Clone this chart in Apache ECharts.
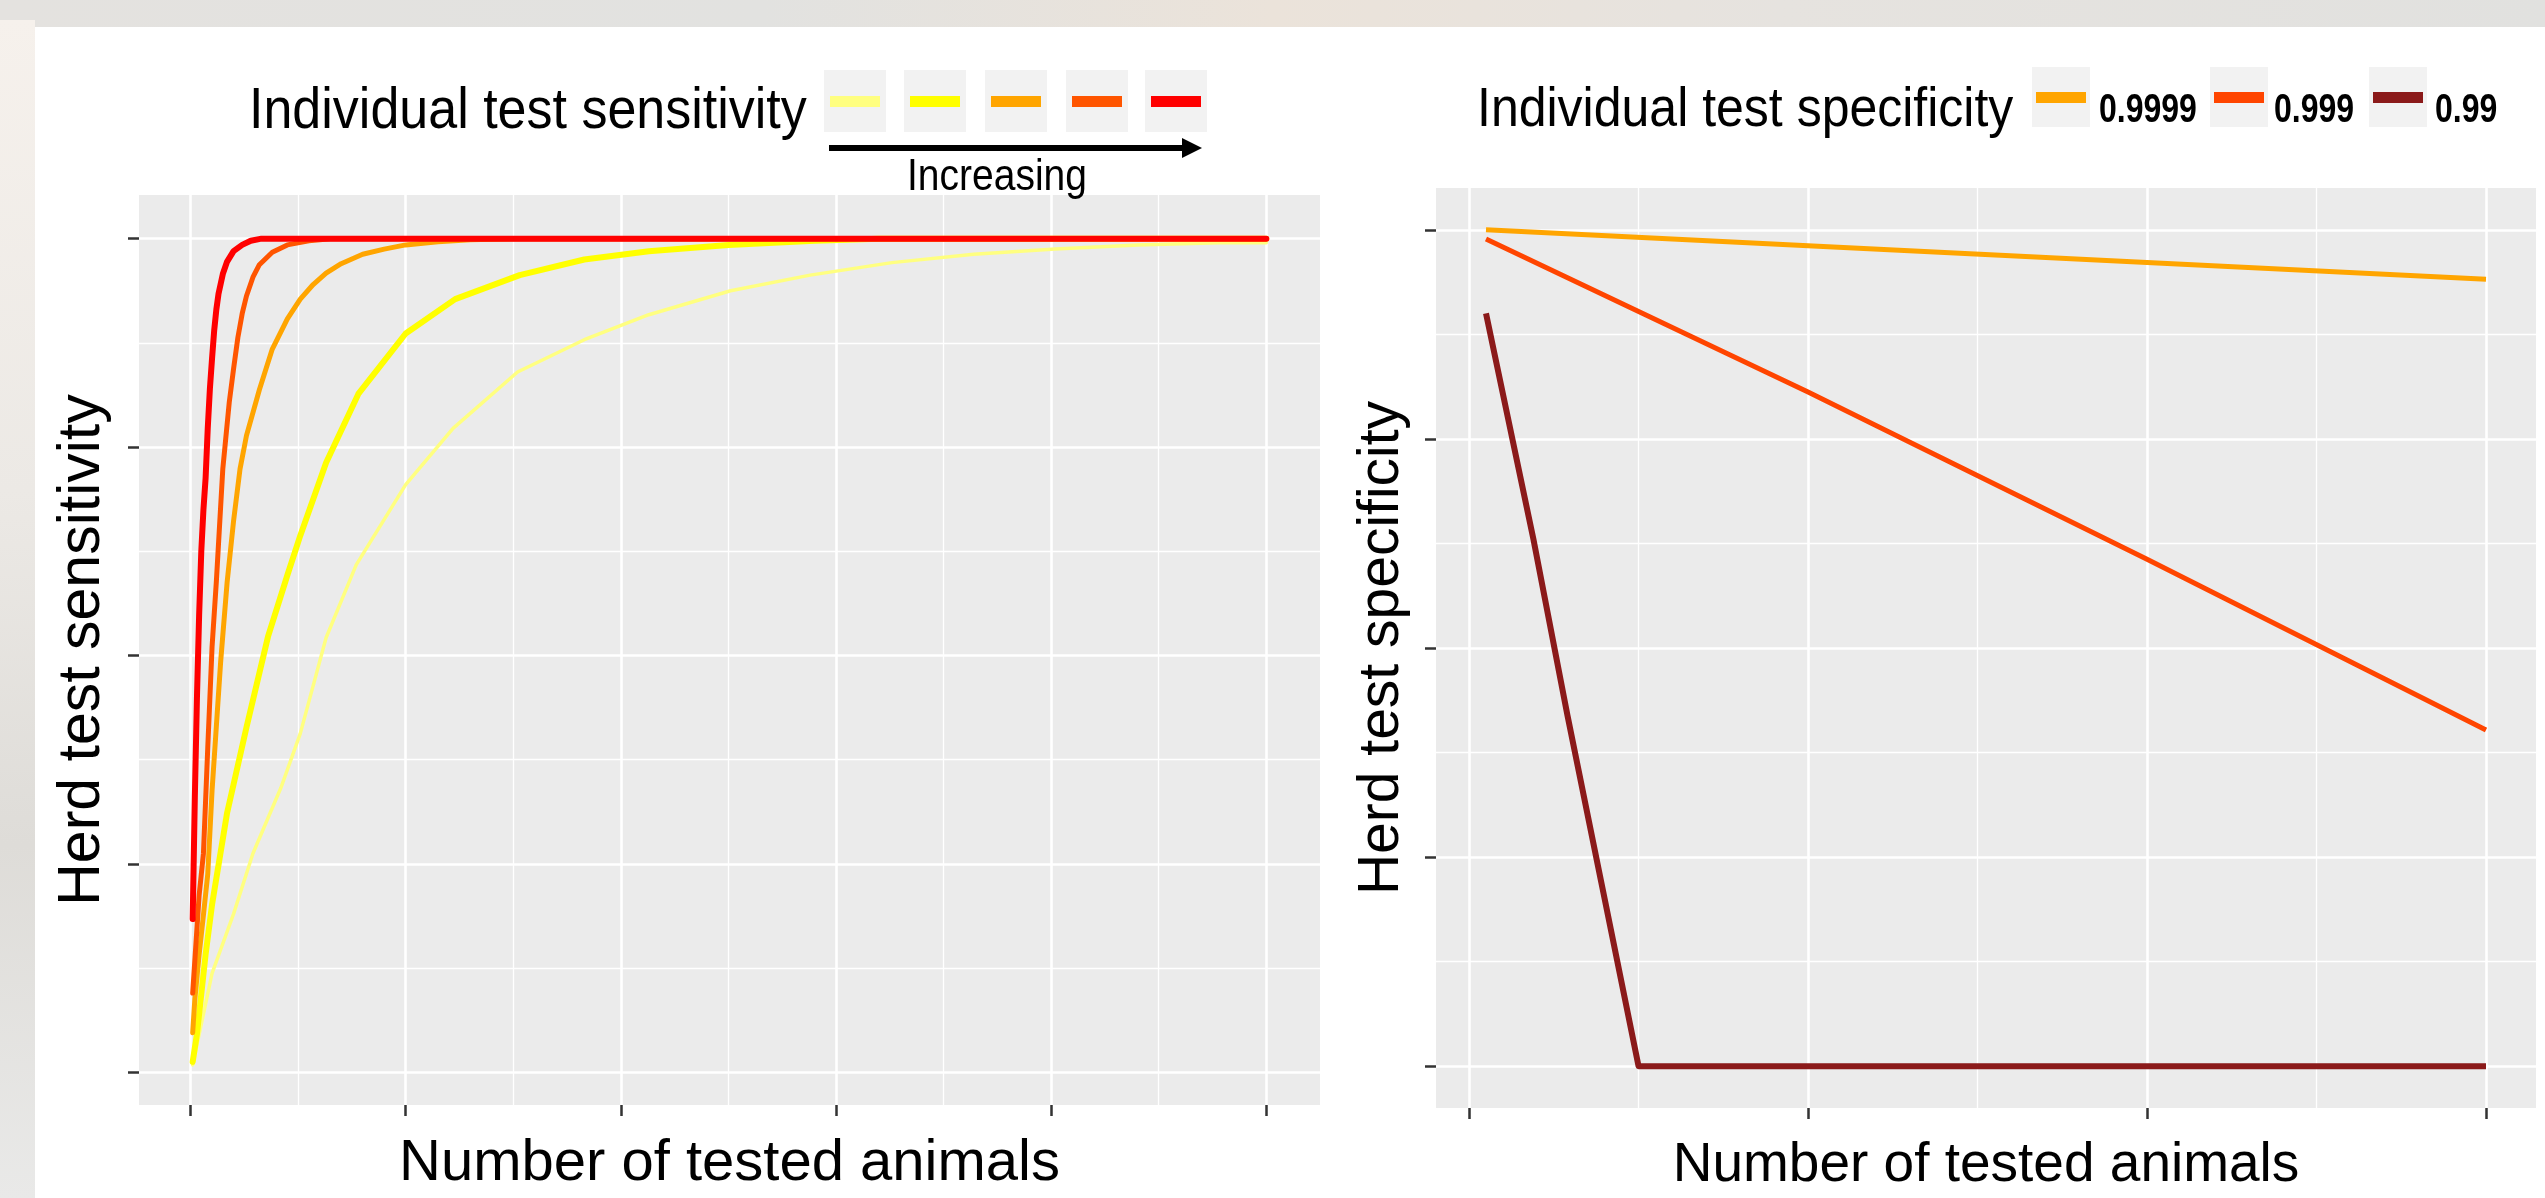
<!DOCTYPE html>
<html><head><meta charset="utf-8">
<script src="https://cdn.jsdelivr.net/npm/echarts@6/dist/echarts.min.js"></script>
<style>html,body{margin:0;padding:0;background:#fff;overflow:hidden}#c{width:2545px;height:1198px;}</style>
</head><body><div id="c"></div>
<script>
const FONT = '"Liberation Sans", Arial, sans-serif';

// ---------- Left panel: herd test sensitivity ----------
const sensXTicks = [0, 100, 200, 300, 400, 500];
const sensXMinor = [50, 150, 250, 350, 450];
const sensYTicks = [0.2, 0.4, 0.6, 0.8, 1.0];
const sensYMinor = [0.3, 0.5, 0.7, 0.9];
const sensNames = ['Lowest', 'Low', 'Medium', 'High', 'Highest'];
const sensColors = ['#ffff80', '#ffff00', '#ffa500', '#ff5500', '#ff0000'];

const sensLowest = [[1,0.207],[10,0.295],[20,0.352],[29,0.410],[42,0.473],[51,0.525],[63,0.617],[77,0.687],[100,0.764],[122,0.818],[152,0.872],[183,0.903],[213,0.927],[251,0.950],[288,0.965],[326,0.977],[364,0.985],[402,0.990],[440,0.994],[478,0.996],[500,0.996]];
const sensLow = [[1,0.210],[3,0.237],[7,0.313],[10,0.361],[17,0.449],[26,0.531],[36,0.618],[45,0.677],[51,0.715],[63,0.785],[78,0.851],[100,0.909],[123,0.942],[153,0.965],[183,0.980],[213,0.988],[250,0.994],[290,0.998],[320,1.0],[500,1.0]];
const sensMedium = [[1,0.238],[2,0.270],[4,0.313],[6,0.351],[8,0.390],[10,0.470],[12,0.532],[14,0.594],[17,0.670],[20,0.729],[23,0.779],[26,0.811],[32,0.855],[38,0.894],[45,0.923],[51,0.942],[57,0.956],[63,0.967],[70,0.976],[80,0.985],[90,0.990],[100,0.994],[115,0.997],[130,0.999],[150,1.0],[500,1.0]];
const sensHigh = [[1,0.276],[4,0.370],[6,0.410],[8,0.511],[10,0.608],[12,0.671],[15,0.779],[18,0.843],[20,0.875],[22,0.905],[24,0.928],[26,0.945],[29,0.963],[32,0.975],[38,0.987],[45,0.994],[55,0.998],[65,1.0],[500,1.0]];
const sensHighest = [[1,0.347],[2,0.464],[3,0.561],[4,0.639],[5,0.700],[6,0.740],[7,0.770],[8,0.818],[9,0.856],[10,0.885],[11,0.912],[12,0.932],[13,0.947],[15,0.966],[17,0.978],[20,0.988],[24,0.994],[28,0.998],[33,1.0],[500,1.0]];
const sensSeries = [sensLowest, sensLow, sensMedium, sensHigh, sensHighest];
const sensWidths = [3.5, 6, 5, 5, 6];

// ---------- Right panel: herd test specificity ----------
const specXTicks = [0, 100, 200, 300];
const specXMinor = [50, 150, 250];
const specYTicks = [0, 0.25, 0.5, 0.75, 1.0];
const specYMinor = [0.125, 0.375, 0.625, 0.875];
const specNames = ['0.9999', '0.999', '0.99'];
const specColors = ['#ffa500', '#ff4500', '#8b1a1a'];

const spec9999 = [[5,1.0],[100,0.981],[200,0.961],[300,0.941]];
const spec999 = [[5,0.989],[100,0.806],[200,0.606],[300,0.402]];
const spec99 = [[5,0.90],[19,0.63],[29,0.42],[39,0.22],[50,0.0],[300,0.0]];
const specSeries = [spec9999, spec999, spec99];
const specWidths = [5, 5, 6];

// ---------- helpers ----------
function majorAxis(gridIndex, min, max, ticks, extra) {
  return Object.assign({
    type: 'value', gridIndex, min, max,
    axisLine: { show: false, onZero: false },
    axisTick: { show: true, customValues: ticks, length: 11, lineStyle: { color: '#333', width: 2.5 } },
    axisLabel: { show: false, customValues: ticks },
    splitLine: { show: true, lineStyle: { color: '#ffffff', width: 2.6 } }
  }, extra || {});
}
function minorAxis(gridIndex, min, max, ticks, position) {
  return {
    type: 'value', gridIndex, min, max, position,
    axisLine: { show: false, onZero: false },
    axisTick: { show: false, customValues: ticks },
    axisLabel: { show: false, customValues: ticks },
    splitLine: { show: true, lineStyle: { color: '#ffffff', width: 1.3 } }
  };
}
function label(text, x, y, size, sy, align, weight) {
  return { type: 'text', z: 101, x, y, scaleY: sy,
    style: { text, x: 0, y: 0, fontSize: size, fontWeight: weight || 'normal', fontFamily: FONT, fill: '#000', align: align || 'left', verticalAlign: 'middle' } };
}

const series = [];
sensSeries.forEach((d, i) => series.push({
  name: sensNames[i], type: 'line', xAxisIndex: 0, yAxisIndex: 0, data: d,
  showSymbol: false, symbol: 'none', z: 3 + i, animation: false,
  lineStyle: { color: sensColors[i], width: sensWidths[i], join: 'round', cap: 'round' }
}));
specSeries.forEach((d, i) => series.push({
  name: specNames[i], type: 'line', xAxisIndex: 2, yAxisIndex: 2, data: d,
  showSymbol: false, symbol: 'none', z: 3 + i, animation: false,
  lineStyle: { color: specColors[i], width: specWidths[i], join: 'round' }
}));

const graphics = [
  { type: 'rect', z: -100, shape: { x: 0, y: 0, width: 2545, height: 1198 },
    style: { fill: new echarts.graphic.LinearGradient(0, 0, 1, 0, [
      { offset: 0, color: '#e4e2df' }, { offset: 0.3, color: '#e2e2e0' }, { offset: 0.5, color: '#ebe3da' }, { offset: 0.7, color: '#e6e3df' }, { offset: 1, color: '#e1e1df' }]) } },
  { type: 'rect', z: -99, shape: { x: 0, y: 20, width: 35, height: 1178 },
    style: { fill: new echarts.graphic.LinearGradient(0, 0, 0, 1, [
      { offset: 0, color: '#f6f1ec' }, { offset: 0.4, color: '#ece9e5' }, { offset: 0.7, color: '#dedcd8' }, { offset: 1, color: '#e9e9e8' }]) } },
  { type: 'rect', z: -98, shape: { x: 35, y: 27, width: 2510, height: 1171 }, style: { fill: '#ffffff' } },
  label('Individual test sensitivity', 249, 112, 52, 1.1),
  label('Increasing', 997, 178, 39, 1.15, 'center'),
  { type: 'line', z: 100, shape: { x1: 829, y1: 148, x2: 1186, y2: 148 }, style: { stroke: '#000', lineWidth: 6 } },
  { type: 'polygon', z: 100, shape: { points: [[1182, 138], [1202, 148], [1182, 158]] }, style: { fill: '#000' } },
  label('Individual test specificity', 1477, 111, 50, 1.12)
];
const sensKeyX = [824, 904, 985, 1066, 1145];
sensColors.forEach((c, i) => {
  graphics.push({ type: 'rect', z: 100, shape: { x: sensKeyX[i], y: 70, width: 62, height: 62 }, style: { fill: '#f2f2f2' } });
  graphics.push({ type: 'rect', z: 101, shape: { x: sensKeyX[i] + 6, y: 96, width: 50, height: 11 }, style: { fill: c } });
});
const specKeyX = [2032, 2210, 2369];
const specLabelX = [2099, 2274, 2435];
specColors.forEach((c, i) => {
  graphics.push({ type: 'rect', z: 100, shape: { x: specKeyX[i], y: 67, width: 58, height: 60 }, style: { fill: '#f2f2f2' } });
  graphics.push({ type: 'rect', z: 101, shape: { x: specKeyX[i] + 4, y: 92, width: 50, height: 11 }, style: { fill: c } });
  graphics.push(label(specNames[i], specLabelX[i], 111, 32, 1.25, 'left', 'bold'));
});

const chart = echarts.init(document.getElementById('c'), null, { renderer: 'canvas' });
chart.setOption({
  animation: false,
  backgroundColor: 'transparent',
  textStyle: { fontFamily: FONT },
  grid: [
    { left: 139, top: 195, width: 1181, height: 917, show: true, backgroundColor: '#ebebeb', borderWidth: 0, containLabel: false },
    { left: 1436, top: 188, width: 1100, height: 927, show: true, backgroundColor: '#ebebeb', borderWidth: 0, containLabel: false }
  ],
  xAxis: [
    majorAxis(0, -23.95, 524.95, sensXTicks, { name: 'Number of tested animals', nameLocation: 'middle', nameGap: 30, nameTextStyle: { fontSize: 58, color: '#000', fontFamily: FONT } }),
    minorAxis(0, -23.95, 524.95, sensXMinor, 'top'),
    majorAxis(1, -9.75, 314.75, specXTicks, { name: 'Number of tested animals', nameLocation: 'middle', nameGap: 30, nameTextStyle: { fontSize: 55, color: '#000', fontFamily: FONT } }),
    minorAxis(1, -9.75, 314.75, specXMinor, 'top')
  ],
  yAxis: [
    majorAxis(0, 0.1686, 1.0419, sensYTicks, { name: 'Herd test sensitivity', nameLocation: 'middle', nameGap: 27, nameTextStyle: { fontSize: 59, color: '#000', fontFamily: FONT } }),
    minorAxis(0, 0.1686, 1.0419, sensYMinor, 'right'),
    majorAxis(1, -0.05, 1.05, specYTicks, { name: 'Herd test specificity', nameLocation: 'middle', nameGap: 25, nameTextStyle: { fontSize: 57, color: '#000', fontFamily: FONT } }),
    minorAxis(1, -0.05, 1.05, specYMinor, 'right')
  ],
  graphic: graphics,
  series
});
</script></body></html>
